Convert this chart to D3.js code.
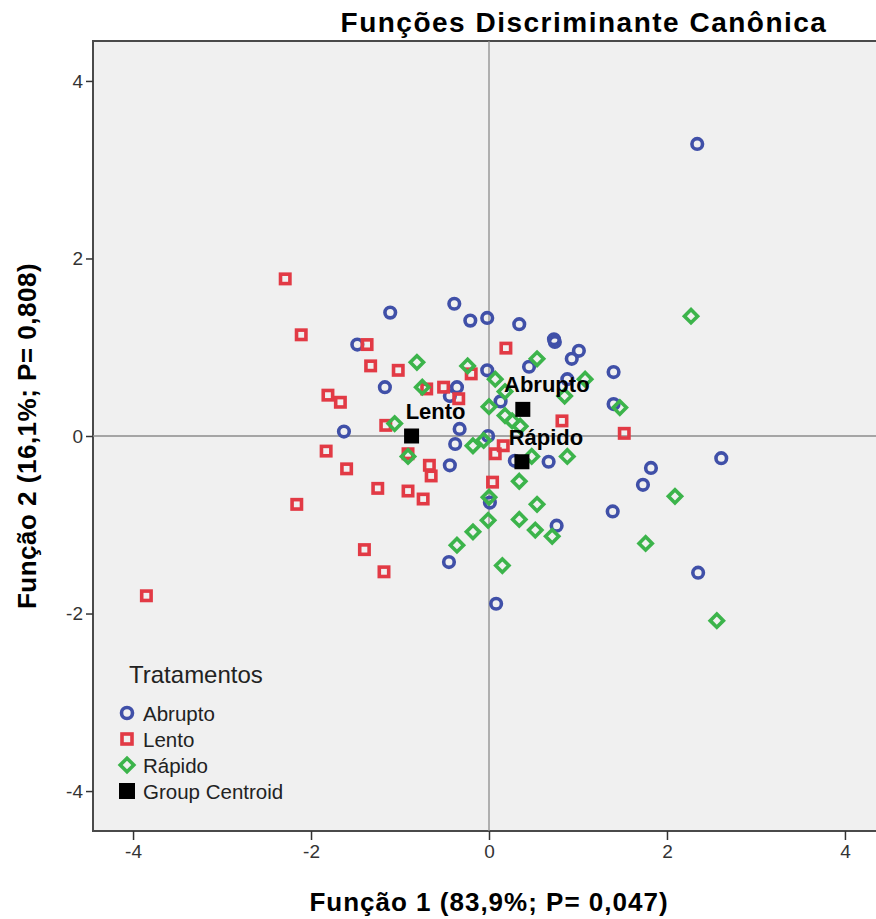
<!DOCTYPE html>
<html>
<head>
<meta charset="utf-8">
<script src="https://cdn.jsdelivr.net/npm/d3@7"></script>
<style>
  body { margin: 0; background: #fff; }
  svg text { font-family: 'Liberation Sans', Arial, sans-serif; }
</style>
</head>
<body>
<div id="chart"></div>
<script>
// values: [Função 1, Função 2]
const abrupto = [
  [2.34, 3.29], [-0.39, 1.49], [-1.11, 1.39], [-0.02, 1.33], [-0.21, 1.3],
  [0.34, 1.26], [-1.48, 1.03], [0.73, 1.09], [0.74, 1.06], [1.01, 0.96],
  [0.93, 0.87], [0.45, 0.78], [-0.02, 0.74], [1.4, 0.72], [-1.17, 0.55],
  [-0.36, 0.55], [-0.44, 0.45], [0.88, 0.64], [0.13, 0.39], [1.4, 0.36],
  [-0.33, 0.08], [-1.63, 0.05], [-0.01, 0.0], [-0.38, -0.09], [-0.44, -0.33],
  [0.29, -0.28], [0.67, -0.29], [0.01, -0.75], [0.76, -1.01], [-0.45, -1.42],
  [0.08, -1.89], [1.39, -0.85], [2.61, -0.25], [1.82, -0.36], [1.73, -0.55],
  [2.35, -1.54]
]
const lento = [
  [-2.29, 1.77], [-2.11, 1.14], [-1.37, 1.03], [-1.33, 0.79], [-1.02, 0.74],
  [-0.7, 0.53], [-0.51, 0.55], [-0.2, 0.7], [0.19, 0.99], [-0.34, 0.42],
  [-1.81, 0.46], [-1.67, 0.38], [-1.16, 0.12], [-1.83, -0.17], [-1.6, -0.37],
  [-1.25, -0.59], [-0.91, -0.2], [-0.67, -0.33], [-0.65, -0.45], [-0.91, -0.62],
  [-0.74, -0.71], [-2.16, -0.77], [-1.4, -1.28], [-1.18, -1.53], [-3.85, -1.8],
  [0.82, 0.17], [1.52, 0.03], [0.07, -0.2], [0.16, -0.11], [0.04, -0.52]
]
const rapido = [
  [2.27, 1.35], [-0.81, 0.83], [-0.24, 0.79], [0.54, 0.87], [0.07, 0.64],
  [-0.75, 0.55], [1.08, 0.64], [0.18, 0.5], [0.85, 0.45], [0.0, 0.33],
  [0.18, 0.23], [0.26, 0.17], [0.35, 0.11], [1.47, 0.32], [-1.06, 0.14],
  [-0.18, -0.11], [-0.06, -0.05], [-0.91, -0.23], [0.48, -0.23], [0.88, -0.23],
  [0.34, -0.51], [0.0, -0.69], [0.54, -0.77], [-0.01, -0.95], [0.34, -0.94],
  [0.52, -1.06], [0.71, -1.13], [-0.18, -1.08], [-0.36, -1.23], [0.15, -1.46],
  [2.09, -0.68], [1.76, -1.21], [2.56, -2.08]
]
const centroidNames = ['Abrupto', 'Lento', 'Rápido']
const centroids = [[0.38, 0.3], [-0.87, 0.0], [0.37, -0.29]]
const ticks = [-4, -2, 0, 2, 4]
const legendLabels = ['Abrupto', 'Lento', 'Rápido', 'Group Centroid']

const blue = '#4050a8', red = '#e23a45', green = '#3cb44b'

var svgWidth = 876, svgHeight = 919
var plot = { left: 93, top: 41, right: 885, bottom: 831 }

var svg = d3.select('#chart').append('svg')
  .attr('width', svgWidth)
  .attr('height', svgHeight)

var x = d3.scaleLinear().domain([-4.45, 4.45]).range([plot.left, plot.right])
var y = d3.scaleLinear().domain([-4.45, 4.45]).range([plot.bottom, plot.top])

// plot background + frame
svg.append('rect')
  .attr('x', plot.left).attr('y', plot.top)
  .attr('width', plot.right - plot.left).attr('height', plot.bottom - plot.top)
  .attr('fill', '#f0f0f0')
  .attr('stroke', '#4a4a4a')
  .attr('stroke-width', 2)

// zero reference lines
svg.append('line')
  .attr('x1', x(0)).attr('x2', x(0))
  .attr('y1', plot.top).attr('y2', plot.bottom)
  .attr('stroke', '#8c8c8c').attr('stroke-width', 1.3)
svg.append('line')
  .attr('x1', plot.left).attr('x2', plot.right)
  .attr('y1', y(0)).attr('y2', y(0))
  .attr('stroke', '#8c8c8c').attr('stroke-width', 1.3)

// axes (plain hyphen for negatives, like the original)
const fmt = d => String(d)
svg.append('g')
  .attr('transform', `translate(${plot.left},0)`)
  .call(d3.axisLeft(y).tickValues(ticks).tickFormat(fmt).tickSize(7).tickPadding(3))
  .call(g => g.select('.domain').remove())
  .call(g => g.selectAll('.tick line').attr('stroke', '#333').attr('stroke-width', 1.5))
  .call(g => g.selectAll('.tick text').attr('fill', '#333').style('font-size', '19px'))

svg.append('g')
  .attr('transform', `translate(0,${plot.bottom})`)
  .call(d3.axisBottom(x).tickValues(ticks).tickFormat(fmt).tickSize(9).tickPadding(5))
  .call(g => g.select('.domain').remove())
  .call(g => g.selectAll('.tick line').attr('stroke', '#333').attr('stroke-width', 1.5))
  .call(g => g.selectAll('.tick text').attr('fill', '#333').style('font-size', '19px'))

// titles
svg.append('text')
  .attr('x', 584).attr('y', 32)
  .attr('text-anchor', 'middle')
  .style('font-size', '28px').style('font-weight', 700)
  .style('letter-spacing', '1.5px')
  .text('Funções Discriminante Canônica')

svg.append('text')
  .attr('x', x(0)).attr('y', 911)
  .attr('text-anchor', 'middle')
  .style('font-size', '26px').style('font-weight', 700)
  .style('letter-spacing', '1px')
  .text('Função 1 (83,9%; P= 0,047)')

svg.append('text')
  .attr('transform', `translate(36,${y(0)}) rotate(-90)`)
  .attr('text-anchor', 'middle')
  .style('font-size', '26px').style('font-weight', 700)
  .style('letter-spacing', '0.5px')
  .text('Função 2 (16,1%; P= 0,808)')

// markers
const sw = 3.6
function diamond(s) {
  return `M0,${-s}L${s},0L0,${s}L${-s},0Z`
}

var marks = svg.append('g')

marks.selectAll('.abrupto')
  .data(abrupto).enter()
  .append('circle')
  .attr('cx', d => x(d[0])).attr('cy', d => y(d[1]))
  .attr('r', 5.3)
  .attr('fill', 'none').attr('stroke', blue).attr('stroke-width', sw)

marks.selectAll('.lento')
  .data(lento).enter()
  .append('rect')
  .attr('x', d => x(d[0]) - 4.7).attr('y', d => y(d[1]) - 4.7)
  .attr('width', 9.4).attr('height', 9.4)
  .attr('fill', 'none').attr('stroke', red).attr('stroke-width', sw)

marks.selectAll('.rapido')
  .data(rapido).enter()
  .append('path')
  .attr('transform', d => `translate(${x(d[0])},${y(d[1])})`)
  .attr('d', diamond(6.6))
  .attr('fill', 'none').attr('stroke', green).attr('stroke-width', sw)

// group centroids
marks.selectAll('.centroid')
  .data(centroids).enter()
  .append('rect')
  .attr('x', d => x(d[0]) - 7.5).attr('y', d => y(d[1]) - 7.5)
  .attr('width', 15).attr('height', 15)
  .attr('fill', '#000')

marks.selectAll('.clabel')
  .data(centroids).enter()
  .append('text')
  .attr('x', d => x(d[0]) + 24).attr('y', d => y(d[1]) - 17)
  .attr('text-anchor', 'middle')
  .style('font-size', '22px').style('font-weight', 700)
  .text((d, i) => centroidNames[i])

// legend
var legend = svg.append('g')
legend.append('text')
  .attr('x', 129).attr('y', 683)
  .attr('fill', '#222')
  .style('font-size', '24px')
  .text('Tratamentos')

const rowY = [713, 739, 765, 791]
legendLabels.forEach((lab, i) => {
  const cy = rowY[i], cx = 127
  if (i === 0) {
    legend.append('circle').attr('cx', cx).attr('cy', cy).attr('r', 5.5)
      .attr('fill', 'none').attr('stroke', blue).attr('stroke-width', sw)
  } else if (i === 1) {
    legend.append('rect').attr('x', cx - 5).attr('y', cy - 5).attr('width', 10).attr('height', 10)
      .attr('fill', 'none').attr('stroke', red).attr('stroke-width', sw)
  } else if (i === 2) {
    legend.append('path').attr('transform', `translate(${cx},${cy})`).attr('d', diamond(6.8))
      .attr('fill', 'none').attr('stroke', green).attr('stroke-width', sw)
  } else {
    legend.append('rect').attr('x', cx - 8).attr('y', cy - 8).attr('width', 16).attr('height', 16)
      .attr('fill', '#000')
  }
  legend.append('text')
    .attr('x', 143).attr('y', cy + 8)
    .attr('fill', '#222')
    .style('font-size', '20.5px')
    .text(lab)
})
</script>
</body>
</html>
